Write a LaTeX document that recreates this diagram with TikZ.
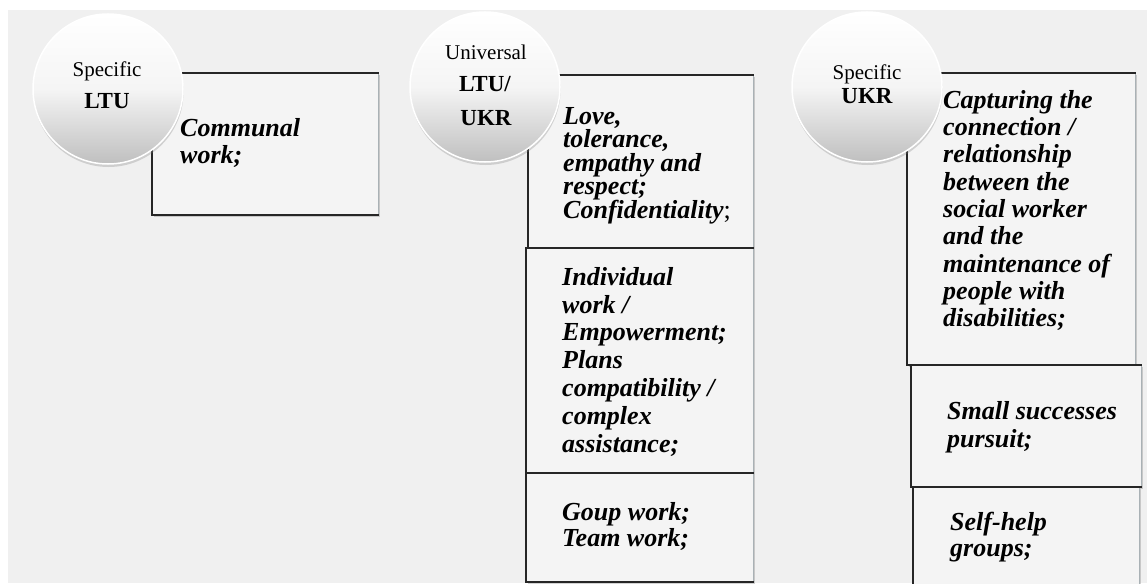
\documentclass[tikz,border=0pt]{standalone}
\usepackage{fontspec}
\setmainfont{Liberation Serif}
\usetikzlibrary{shadows}
\definecolor{bggray}{HTML}{F0F0F0}
\definecolor{boxgray}{HTML}{F4F4F4}
\definecolor{edgegray}{HTML}{A9B1B5}
\setlength{\lineskiplimit}{-100pt}
\begin{document}
\begin{tikzpicture}[x=1pt,y=-1pt,
  panel/.style={draw=none, fill=boxgray, inner sep=0pt, anchor=north west,
    drop shadow={shadow xshift=1.5pt, shadow yshift=-1.5pt, opacity=0.35}},
  blackedge/.style={line width=2pt, black!85, line cap=rect},
  greyedge/.style={line width=1.6pt, edgegray},
  bubble/.style={circle, minimum size=150pt, inner sep=0pt, draw=white, line width=1.5pt,
    top color=white, bottom color=gray!50, middle color=gray!8,
    drop shadow={shadow xshift=0.5pt, shadow yshift=-3pt, opacity=0.3}},
  item/.style={anchor=north west, inner sep=0pt, align=left,
    font=\fontsize{26}{#1}\selectfont\bfseries\itshape,
    execute at begin node=\rule{0pt}{20pt}},
  smalltxt/.style={font=\fontsize{21}{21}\selectfont, anchor=base, inner sep=0pt},
  bigtxt/.style={font=\fontsize{23}{23}\selectfont\bfseries, anchor=base, inner sep=0pt},
]
\useasboundingbox (0,0) rectangle (1147,583);
\fill[white] (0,0) rectangle (1147,583);
\fill[bggray] (8,10) rectangle (1147,583);

% column 1
\node[panel, minimum width=226pt, minimum height=142pt] (b1) at (152,73) {};
\draw[greyedge] (b1.north east) -- (b1.south east);
\draw[blackedge] (b1.north east) -- (b1.north west) -- (b1.south west) -- (b1.south east);

% column 2
\node[panel, minimum width=225pt, minimum height=173pt] (b2a) at (528,75) {};
\draw[greyedge] (b2a.north east) -- (b2a.south east);
\draw[blackedge] (b2a.north east) -- (b2a.north west) -- (b2a.south west) -- (b2a.south east);
\node[panel, minimum width=227pt, minimum height=225pt] (b2b) at (526,248) {};
\draw[greyedge] (b2b.north east) -- (b2b.south east);
\draw[blackedge] (b2b.north east) -- (b2b.north west) -- (b2b.south west) -- (b2b.south east);
\node[panel, minimum width=227pt, minimum height=109pt] (b2c) at (526,473) {};
\draw[greyedge] (b2c.north east) -- (b2c.south east);
\draw[blackedge] (b2c.north east) -- (b2c.north west) -- (b2c.south west) -- (b2c.south east);

% column 3
\node[panel, minimum width=228pt, minimum height=292pt] (b3a) at (907,73) {};
\draw[greyedge] (b3a.north east) -- (b3a.south east);
\draw[blackedge] (b3a.north east) -- (b3a.north west) -- (b3a.south west) -- (b3a.south east);
\node[panel, minimum width=230pt, minimum height=122pt] (b3b) at (911,365) {};
\draw[greyedge] (b3b.north east) -- (b3b.south east);
\draw[blackedge] (b3b.north east) -- (b3b.north west) -- (b3b.south west) -- (b3b.south east);
\node[panel, minimum width=226pt, minimum height=110pt] (b3c) at (913,487) {};
\draw[greyedge] (b3c.north east) -- (b3c.south east);
\draw[blackedge] (b3c.north east) -- (b3c.north west) -- (b3c.south west) -- (b3c.south east);

% box texts
\node[item=27] (t1) at (180,118) {Communal\\work;};
\node[item=23.5] (t2a) at (563,107) {Love,\\tolerance,\\empathy and\\respect;\\Confidentiality{\mdseries\upshape;}};
\node[item=27.8] (t2b) at (562,267) {Individual\\work /\\Empowerment;\\Plans\\compatibility /\\complex\\assistance;};
\node[item=26.5] (t2c) at (562,502) {Goup work;\\Team work;};
\node[item=27.3] (t3a) at (943,90) {Capturing the\\connection /\\relationship\\between the\\social worker\\and the\\maintenance of\\people with\\disabilities;};
\node[item=28] (t3b) at (947,401) {Small successes\\pursuit;};
\node[item=26] (t3c) at (950,512) {Self-help\\groups;};

% bubbles
\node[bubble] (c1) at (108,89) {};
\node[bubble] (c2) at (485,87) {};
\node[bubble] (c3) at (867,87) {};

\node[smalltxt] (c1a) at (107,77) {Specific};
\node[bigtxt] (c1b) at (107,109) {LTU};
\node[smalltxt] (c2a) at (486,60) {Universal};
\node[bigtxt] (c2b) at (485,92) {LTU/};
\node[bigtxt] (c2c) at (486,125) {UKR};
\node[smalltxt] (c3a) at (867,80) {Specific};
\node[bigtxt] (c3b) at (867,104) {UKR};
\end{tikzpicture}
\end{document}
